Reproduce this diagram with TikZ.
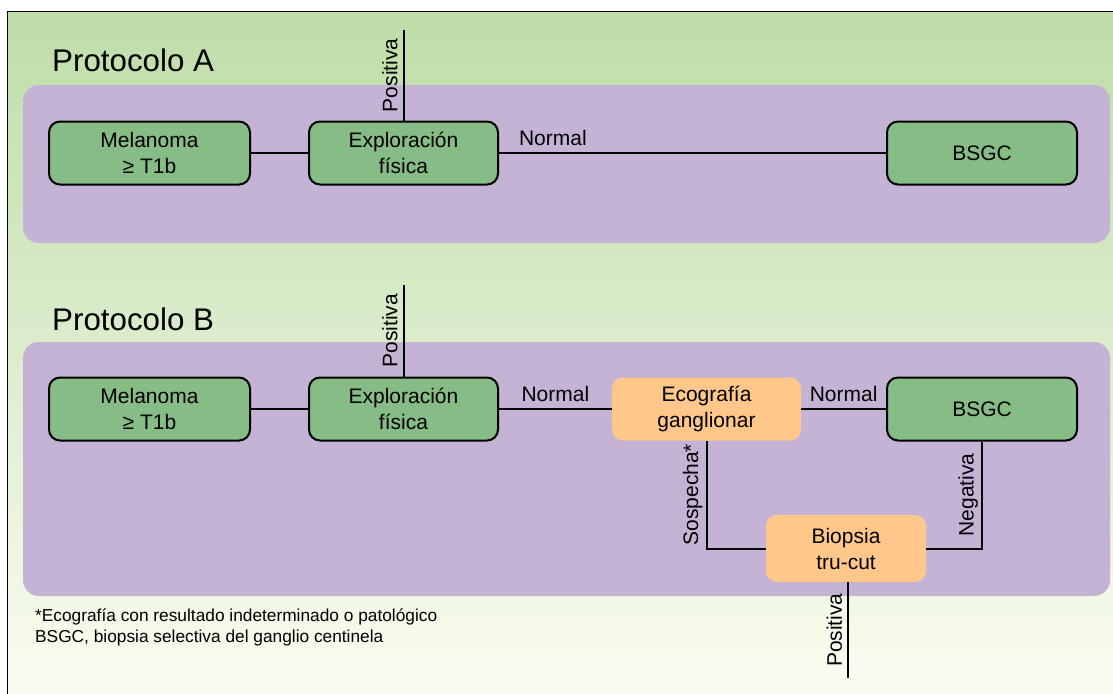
\documentclass[tikz,border=0pt]{standalone}
\usepackage{fontspec}
\setmainfont{Liberation Sans}
\definecolor{bgtop}{HTML}{BEDDA8}
\definecolor{bgbot}{HTML}{FBFDF2}
\definecolor{panel}{HTML}{C5B3D6}
\definecolor{boxgreen}{HTML}{86BC86}
\definecolor{boxorange}{HTML}{FFC88A}
\newcommand{\nodefnt}{\fontsize{21}{26}\selectfont}
\newcommand{\titlefnt}{\fontsize{31.3}{36}\selectfont}
\newcommand{\notefnt}{\fontsize{17.3}{21}\selectfont}
\begin{document}
\begin{tikzpicture}[x=1pt,y=-1pt,
  greenbox/.style={draw=black, line width=2pt, fill=boxgreen, rounded corners=11pt,
    minimum height=63pt, align=center, inner sep=0pt, font=\nodefnt},
  orangebox/.style={fill=boxorange, rounded corners=11pt,
    minimum height=63pt, align=center, inner sep=0pt, font=\nodefnt},
  conn/.style={line width=2pt},
  hlab/.style={font=\nodefnt, anchor=south, inner sep=0pt, yshift=6pt},
  vlab/.style={font=\nodefnt, rotate=90, anchor=south, inner sep=#1},
  vlab/.default=5pt,
  panelbox/.style={fill=panel, rounded corners=16pt},
  ttl/.style={font=\titlefnt, anchor=base west, inner sep=0pt},
  note/.style={font=\notefnt, anchor=base west, inner sep=0pt}]
\useasboundingbox (0,0) rectangle (1113,693);
\clip (0,0) rectangle (1113,693);
% background frame
\shade[top color=bgtop, bottom color=bgbot, draw=black, line width=1pt]
  (7,12) rectangle (1125,705);
% panels
\path[panelbox] (23,85) rectangle (1110,243);
\path[panelbox] (23,342) rectangle (1110,596);
% titles
\node[ttl] (ttlA) at (52,71) {Protocolo A};
\node[ttl] (ttlB) at (52,330) {Protocolo B};
% Protocol A
\node[greenbox, minimum width=201pt] (melA) at (149.5,153) {Melanoma\\≥ T1b};
\node[greenbox, minimum width=189pt] (expA) at (403.5,153) {Exploración\\física};
\node[greenbox, minimum width=190pt] (bsgcA) at (982,153) {BSGC};
\coordinate (posA) at (403.5,30);
\draw[conn] (melA) -- (expA);
\draw[conn] (expA) -- (bsgcA) node[pos=0, anchor=south west, font=\nodefnt, inner sep=0pt, xshift=19pt, yshift=6pt] {Normal};
\draw[conn] (expA.north) -- (posA) node[midway, vlab] {Positiva};
% Protocol B
\node[greenbox, minimum width=201pt] (melB) at (149.5,409) {Melanoma\\≥ T1b};
\node[greenbox, minimum width=189pt] (expB) at (403.5,409) {Exploración\\física};
\node[orangebox, minimum width=189pt] (eco) at (706.5,409) {Ecografía\\ganglionar};
\node[greenbox, minimum width=190pt] (bsgcB) at (982,409) {BSGC};
\node[orangebox, minimum width=160pt, minimum height=67pt] (bio) at (846,548.5) {Biopsia\\tru-cut};
\coordinate (posB) at (403.5,285);
\coordinate (posBio) at (848,678);
\draw[conn] (melB) -- (expB);
\draw[conn] (expB) -- (eco) node[midway, hlab] {Normal};
\draw[conn] (eco) -- (bsgcB) node[midway, hlab] {Normal};
\draw[conn] (expB.north) -- (posB) node[midway, vlab] {Positiva};
\draw[conn] (eco.south) -- (eco.south |- bio.west) node[midway, vlab=3pt] {Sospecha*} -- (bio.west);
\draw[conn] (bio.east) -- (bio.east -| bsgcB.south) -- (bsgcB.south) node[midway, vlab=3pt] {Negativa};
\draw[conn] (bio.south -| posBio) -- (posBio) node[midway, vlab] {Positiva};
% footnote
\node[note] (n1) at (35,621) {*Ecografía con resultado indeterminado o patológico};
\node[note] (n2) at (35,642) {BSGC, biopsia selectiva del ganglio centinela};
\end{tikzpicture}
\end{document}
